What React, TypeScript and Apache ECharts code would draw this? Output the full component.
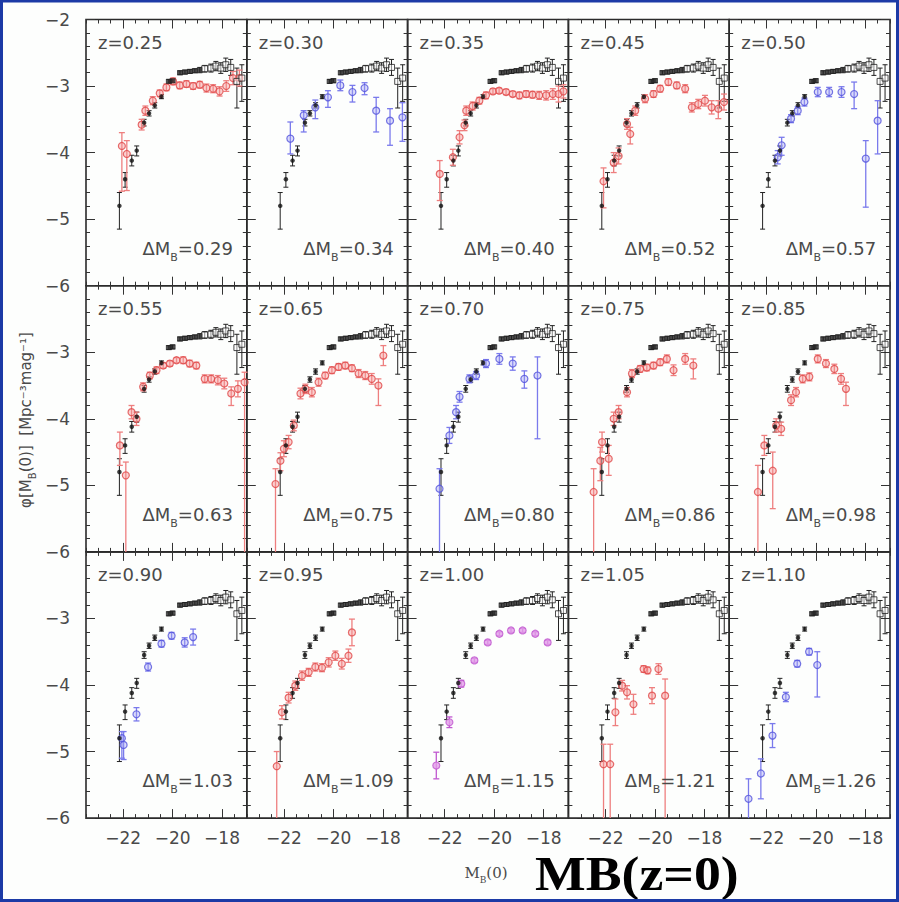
import React, { useEffect, useRef } from 'react';
import * as echarts from 'echarts';

// [M_B, log phi, error below, error above]
type Pt = [number, number, number, number];

const refLF: Pt[] = [
  [-22.15, -4.8, 0.35, 0.2], [-21.92, -4.4, 0.12, 0.1], [-21.65, -4.12, 0.08, 0.08],
  [-21.45, -3.97, 0.08, 0.07], [-21.15, -3.55, 0.05, 0.05], [-20.95, -3.41, 0.04, 0.04],
  [-20.72, -3.29, 0.04, 0.04], [-20.45, -3.16, 0.03, 0.03], [-20.15, -2.93, 0.03, 0.03],
  [-20.0, -2.92, 0.03, 0.03], [-19.7, -2.8, 0.03, 0.03], [-19.5, -2.79, 0.03, 0.03],
  [-19.3, -2.78, 0.03, 0.03], [-19.1, -2.77, 0.03, 0.03], [-18.9, -2.76, 0.04, 0.04],
  [-18.7, -2.74, 0.05, 0.05], [-18.45, -2.73, 0.06, 0.06], [-18.25, -2.7, 0.07, 0.07],
  [-18.05, -2.73, 0.08, 0.08], [-17.85, -2.68, 0.1, 0.1], [-17.65, -2.72, 0.12, 0.12],
  [-17.4, -2.93, 0.4, 0.2], [-17.2, -2.88, 0.35, 0.2],
];

const lf025: Pt[] = [
  [-22.05, -3.9, 0.68, 0.2], [-21.85, -4.02, 0.55, 0.2], [-21.25, -3.58, 0.08, 0.08],
  [-21.1, -3.37, 0.07, 0.07], [-20.8, -3.22, 0.06, 0.06], [-20.52, -3.11, 0.05, 0.05],
  [-20.25, -3.02, 0.05, 0.05], [-19.98, -2.93, 0.05, 0.05], [-19.71, -2.99, 0.05, 0.05],
  [-19.44, -2.97, 0.05, 0.05], [-19.17, -3.0, 0.05, 0.05], [-18.9, -2.98, 0.05, 0.05],
  [-18.63, -3.03, 0.06, 0.06], [-18.36, -3.04, 0.06, 0.06], [-18.1, -3.08, 0.07, 0.07],
  [-17.83, -3.0, 0.08, 0.08], [-17.56, -2.88, 0.1, 0.1], [-17.3, -2.88, 0.12, 0.12],
];
const lf030: Pt[] = [
  [-21.74, -3.79, 0.23, 0.25], [-21.2, -3.44, 0.25, 0.07], [-20.73, -3.32, 0.17, 0.11],
  [-20.22, -3.17, 0.15, 0.1], [-19.72, -2.99, 0.08, 0.08], [-19.23, -3.09, 0.15, 0.1],
  [-18.74, -3.03, 0.1, 0.08], [-18.27, -3.37, 0.32, 0.2], [-17.71, -3.52, 0.37, 0.18],
  [-17.21, -3.47, 0.36, 0.22],
];
const lf035: Pt[] = [
  [-22.2, -4.32, 0.4, 0.2], [-21.67, -4.07, 0.12, 0.12], [-21.4, -3.77, 0.1, 0.1],
  [-21.2, -3.59, 0.08, 0.08], [-21.13, -3.37, 0.07, 0.07], [-20.87, -3.3, 0.06, 0.06],
  [-20.6, -3.22, 0.05, 0.05], [-20.33, -3.14, 0.05, 0.05], [-20.05, -3.08, 0.04, 0.04],
  [-19.8, -3.07, 0.04, 0.04], [-19.52, -3.09, 0.04, 0.04], [-19.25, -3.12, 0.04, 0.04],
  [-18.98, -3.14, 0.05, 0.05], [-18.71, -3.12, 0.05, 0.05], [-18.45, -3.13, 0.05, 0.05],
  [-18.18, -3.14, 0.06, 0.06], [-17.9, -3.14, 0.07, 0.07], [-17.63, -3.12, 0.08, 0.08],
  [-17.4, -3.12, 0.12, 0.12], [-17.2, -3.08, 0.1, 0.1],
];
const lf045: Pt[] = [
  [-22.08, -4.43, 0.4, 0.2], [-21.67, -4.15, 0.15, 0.15], [-21.47, -4.05, 0.12, 0.12],
  [-21.13, -3.57, 0.08, 0.08], [-21.0, -3.72, 0.15, 0.1], [-20.8, -3.37, 0.07, 0.07],
  [-20.4, -3.19, 0.06, 0.06], [-20.06, -3.12, 0.05, 0.05], [-19.79, -3.04, 0.05, 0.05],
  [-19.46, -2.94, 0.05, 0.05], [-19.12, -2.99, 0.05, 0.05], [-18.78, -3.04, 0.06, 0.06],
  [-18.51, -3.32, 0.07, 0.07], [-18.25, -3.27, 0.07, 0.07], [-17.98, -3.22, 0.08, 0.08],
  [-17.71, -3.32, 0.1, 0.1], [-17.44, -3.34, 0.15, 0.12], [-17.21, -3.24, 0.12, 0.12],
];
const lf050: Pt[] = [
  [-21.54, -4.07, 0.1, 0.1], [-21.38, -3.89, 0.15, 0.12], [-21.0, -3.49, 0.06, 0.06],
  [-20.73, -3.37, 0.06, 0.06], [-20.46, -3.24, 0.06, 0.06], [-19.92, -3.09, 0.07, 0.07],
  [-19.46, -3.09, 0.07, 0.07], [-18.96, -3.09, 0.08, 0.08], [-18.45, -3.12, 0.22, 0.18],
  [-17.98, -4.09, 0.73, 0.27], [-17.5, -3.52, 0.5, 0.3],
];
const lf055: Pt[] = [
  [-22.13, -4.4, 0.3, 0.2], [-21.89, -4.85, 1.5, 0.2], [-21.66, -3.9, 0.1, 0.1],
  [-21.46, -4.0, 0.1, 0.1], [-21.19, -3.52, 0.06, 0.06], [-20.92, -3.35, 0.05, 0.05],
  [-20.65, -3.27, 0.05, 0.05], [-20.38, -3.2, 0.04, 0.04], [-20.11, -3.17, 0.04, 0.04],
  [-19.84, -3.12, 0.04, 0.04], [-19.57, -3.12, 0.05, 0.05], [-19.31, -3.17, 0.05, 0.05],
  [-19.04, -3.2, 0.05, 0.05], [-18.7, -3.4, 0.06, 0.06], [-18.44, -3.4, 0.06, 0.06],
  [-18.17, -3.42, 0.07, 0.07], [-17.91, -3.47, 0.08, 0.08], [-17.63, -3.62, 0.18, 0.1],
  [-17.36, -3.55, 0.12, 0.12], [-17.09, -3.45, 3.0, 0.15],
];
const lf065: Pt[] = [
  [-22.34, -4.98, 1.5, 0.23], [-22.14, -4.63, 0.15, 0.12], [-22.0, -4.45, 0.12, 0.12],
  [-21.81, -4.35, 0.1, 0.1], [-21.6, -4.1, 0.08, 0.08], [-21.33, -3.62, 0.08, 0.08],
  [-21.13, -3.55, 0.07, 0.07], [-20.87, -3.6, 0.07, 0.07], [-20.6, -3.45, 0.06, 0.06],
  [-20.33, -3.35, 0.05, 0.05], [-20.06, -3.27, 0.05, 0.05], [-19.79, -3.22, 0.05, 0.05],
  [-19.52, -3.2, 0.05, 0.05], [-19.25, -3.24, 0.05, 0.05], [-18.98, -3.32, 0.06, 0.06],
  [-18.71, -3.35, 0.06, 0.06], [-18.45, -3.4, 0.08, 0.08], [-18.18, -3.5, 0.3, 0.1],
  [-17.98, -3.05, 0.15, 0.15],
];
const lf070: Pt[] = [
  [-22.21, -5.05, 1.5, 0.3], [-21.81, -4.25, 0.12, 0.12], [-21.54, -3.9, 0.1, 0.1],
  [-21.4, -3.67, 0.08, 0.08], [-21.0, -3.4, 0.06, 0.06], [-20.73, -3.35, 0.06, 0.06],
  [-20.33, -3.17, 0.06, 0.06], [-19.79, -3.1, 0.08, 0.08], [-19.25, -3.17, 0.1, 0.1],
  [-18.78, -3.4, 0.14, 0.12], [-18.25, -3.35, 0.95, 0.28],
];
const lf075: Pt[] = [
  [-22.48, -5.1, 1.5, 0.35], [-22.21, -4.63, 0.3, 0.2], [-22.14, -4.35, 0.15, 0.15],
  [-21.87, -4.6, 0.25, 0.2], [-21.67, -4.0, 0.1, 0.1], [-21.47, -3.9, 0.1, 0.1],
  [-21.13, -3.6, 0.07, 0.07], [-20.93, -3.32, 0.06, 0.06], [-20.6, -3.25, 0.05, 0.05],
  [-20.33, -3.23, 0.05, 0.05], [-20.06, -3.2, 0.05, 0.05], [-19.79, -3.15, 0.05, 0.05],
  [-19.52, -3.1, 0.06, 0.06], [-19.25, -3.27, 0.08, 0.08], [-18.78, -3.1, 0.08, 0.08],
  [-18.45, -3.2, 0.2, 0.1],
];
const lf085: Pt[] = [
  [-22.34, -5.1, 1.5, 0.4], [-22.08, -4.4, 0.15, 0.15], [-21.74, -4.78, 0.57, 0.28],
  [-21.6, -4.1, 0.1, 0.1], [-21.4, -4.15, 0.1, 0.1], [-21.0, -3.72, 0.08, 0.08],
  [-20.8, -3.6, 0.07, 0.07], [-20.53, -3.4, 0.06, 0.06], [-20.26, -3.37, 0.06, 0.06],
  [-19.92, -3.1, 0.06, 0.06], [-19.59, -3.17, 0.06, 0.06], [-19.25, -3.25, 0.07, 0.07],
  [-18.98, -3.4, 0.08, 0.08], [-18.78, -3.55, 0.25, 0.1],
];
const lf090: Pt[] = [
  [-22.05, -4.8, 0.3, 0.1], [-21.98, -4.9, 0.22, 0.2], [-21.46, -4.44, 0.1, 0.1],
  [-20.99, -3.73, 0.06, 0.06], [-20.45, -3.38, 0.05, 0.05], [-20.04, -3.26, 0.05, 0.05],
  [-19.51, -3.36, 0.07, 0.07], [-19.17, -3.28, 0.12, 0.12],
];
const lf095: Pt[] = [
  [-22.29, -5.22, 1.0, 0.22], [-22.08, -4.41, 0.1, 0.1], [-21.81, -4.19, 0.08, 0.08],
  [-21.54, -4.01, 0.07, 0.07], [-21.27, -3.86, 0.07, 0.07], [-21.0, -3.81, 0.06, 0.06],
  [-20.73, -3.73, 0.06, 0.06], [-20.46, -3.74, 0.06, 0.06], [-20.19, -3.66, 0.07, 0.07],
  [-19.92, -3.56, 0.07, 0.07], [-19.66, -3.68, 0.08, 0.08], [-19.39, -3.56, 0.1, 0.1],
  [-19.25, -3.21, 0.2, 0.2],
];
const lf100: Pt[] = [
  [-22.34, -5.21, 0.2, 0.2], [-21.81, -4.56, 0.08, 0.08], [-21.33, -3.98, 0.05, 0.05],
  [-20.8, -3.63, 0.03, 0.03], [-20.26, -3.36, 0.03, 0.03], [-19.79, -3.23, 0.03, 0.03],
  [-19.32, -3.18, 0.03, 0.03], [-18.85, -3.18, 0.03, 0.03], [-18.34, -3.23, 0.03, 0.03],
  [-17.84, -3.36, 0.03, 0.03],
];
const lf105: Pt[] = [
  [-22.08, -5.19, 1.0, 0.3], [-21.81, -5.19, 1.0, 0.3], [-21.6, -4.41, 0.2, 0.2],
  [-21.33, -4.01, 0.08, 0.08], [-21.13, -4.11, 0.1, 0.1], [-20.87, -4.29, 0.15, 0.15],
  [-20.46, -3.76, 0.05, 0.05], [-20.3, -3.78, 0.05, 0.05], [-20.12, -4.16, 0.12, 0.12],
  [-19.86, -3.76, 0.08, 0.08], [-19.59, -4.16, 2.0, 0.25],
];
const lf110: Pt[] = [
  [-22.72, -5.71, 0.3, 0.3], [-22.22, -5.33, 0.38, 0.22], [-21.75, -4.76, 0.18, 0.18],
  [-21.21, -4.18, 0.07, 0.07], [-20.75, -3.68, 0.05, 0.05], [-20.27, -3.5, 0.05, 0.05],
  [-19.94, -3.7, 0.48, 0.2],
];

const panelData: Pt[][] = [
  lf025, lf030, lf035, lf045, lf050,
  lf055, lf065, lf070, lf075, lf085,
  lf090, lf095, lf100, lf105, lf110,
];
const redshifts = ['0.25', '0.30', '0.35', '0.45', '0.50', '0.55', '0.65', '0.70', '0.75', '0.85', '0.90', '0.95', '1.00', '1.05', '1.10'];
const deltaMB = ['0.29', '0.34', '0.40', '0.52', '0.57', '0.63', '0.75', '0.80', '0.86', '0.98', '1.03', '1.09', '1.15', '1.21', '1.26'];
const sampleColor = ['red', 'blue', 'red', 'red', 'blue', 'red', 'red', 'blue', 'red', 'red', 'blue', 'red', 'magenta', 'red', 'blue'];
const xTickLabels = [-22, -20, -18];
const xRange = [-23.5, -17];
const yRange = [-6, -2];

const PALETTE: Record<string, { edge: string; fill: string; bar: string }> = {
  red: { edge: '#e04848', fill: 'rgba(245,150,150,0.55)', bar: '#ee7f7f' },
  blue: { edge: '#5252dc', fill: 'rgba(165,165,245,0.5)', bar: '#7a7aec' },
  magenta: { edge: '#c058d0', fill: '#e29ee8', bar: '#c058d0' },
};

const L = 86, T = 19.5, W = 160.8, H = 266.2;
const FONT = 'DejaVu Sans';
const TXT = '#4a4a4a';

function errBars(color: string, lw: number, cap: number) {
  return (_p: any, api: any) => {
    const x = api.value(0), y = api.value(1), lo = api.value(2), hi = api.value(3);
    const top = y + hi, bot = y - lo;
    const p1 = api.coord([x, Math.min(top, yRange[1])]);
    const p2 = api.coord([x, Math.max(bot, yRange[0])]);
    const st = { stroke: color, lineWidth: lw };
    const ch: any[] = [{ type: 'line', shape: { x1: p1[0], y1: p1[1], x2: p2[0], y2: p2[1] }, style: st }];
    if (top <= yRange[1]) ch.push({ type: 'line', shape: { x1: p1[0] - cap, y1: p1[1], x2: p1[0] + cap, y2: p1[1] }, style: st });
    if (bot >= yRange[0]) ch.push({ type: 'line', shape: { x1: p2[0] - cap, y1: p2[1], x2: p2[0] + cap, y2: p2[1] }, style: st });
    return { type: 'group', children: ch };
  };
}

const minus = (v: number) => (v < 0 ? '\u2212' + Math.abs(v) : String(v));

function buildOption() {
  const grids: any[] = [], xAxes: any[] = [], yAxes: any[] = [], series: any[] = [], graphics: any[] = [];
  const tickStyle = { color: '#333', width: 1 };
  for (let i = 0; i < 15; i++) {
    const r = Math.floor(i / 5), c = i % 5;
    const left = L + c * W, top = T + r * H;
    grids.push({ left, top, width: W, height: H, show: true, borderColor: '#2a2a2a', borderWidth: 1.6, backgroundColor: 'transparent' });
    const xb = { type: 'value', gridIndex: i, min: xRange[0], max: xRange[1], axisLine: { show: false }, splitLine: { show: false } };
    const labelStyle = { fontFamily: FONT, fontSize: 17, color: TXT };
    xAxes.push({ ...xb, position: 'bottom', interval: 0.5,
      axisTick: { inside: true, length: 4, lineStyle: tickStyle },
      axisLabel: r === 2 ? { ...labelStyle, customValues: xTickLabels, formatter: minus, margin: 11 } : { show: false } });
    xAxes.push({ ...xb, position: 'bottom', axisTick: { inside: true, length: 9, customValues: xTickLabels, lineStyle: tickStyle }, axisLabel: { show: false } });
    xAxes.push({ ...xb, position: 'top', interval: 0.5, axisTick: { inside: true, length: 4, lineStyle: tickStyle }, axisLabel: { show: false } });
    xAxes.push({ ...xb, position: 'top', axisTick: { inside: true, length: 9, customValues: xTickLabels, lineStyle: tickStyle }, axisLabel: { show: false } });
    const yb = { type: 'value', gridIndex: i, min: yRange[0], max: yRange[1], interval: 1, axisLine: { show: false }, splitLine: { show: false },
      axisTick: { inside: true, length: 9, lineStyle: tickStyle }, minorTick: { show: true, splitNumber: 5, length: 4, lineStyle: tickStyle } };
    yAxes.push({ ...yb, position: 'left',
      axisLabel: c === 0 ? { ...labelStyle, margin: 16, formatter: (v: number) => (r > 0 && v === yRange[1] ? '' : minus(v)) } : { show: false } });
    yAxes.push({ ...yb, position: 'right', axisLabel: { show: false } });

    const xi = i * 4, yi = i * 2;
    const pal = PALETTE[sampleColor[i]];
    const sample = panelData[i];
    series.push({ type: 'custom', xAxisIndex: xi, yAxisIndex: yi, silent: true, encode: { x: 0, y: 1 }, data: refLF, renderItem: errBars('#222', 1, 2.5), z: 2 });
    series.push({ type: 'custom', xAxisIndex: xi, yAxisIndex: yi, silent: true, encode: { x: 0, y: 1 }, data: sample, renderItem: errBars(pal.bar, 1.3, 3), z: 3 });
    series.push({ type: 'scatter', xAxisIndex: xi, yAxisIndex: yi, silent: true, symbol: 'circle', symbolSize: 7,
      itemStyle: { color: pal.fill, borderColor: pal.edge, borderWidth: 1.2 }, data: sample.map((p) => [p[0], p[1]]), z: 4 });
    series.push({ type: 'scatter', xAxisIndex: xi, yAxisIndex: yi, silent: true, symbol: 'circle', symbolSize: 4.5,
      itemStyle: { color: '#111' }, data: refLF.filter((p) => p[0] < -20.3).map((p) => [p[0], p[1]]), z: 5 });
    series.push({ type: 'scatter', xAxisIndex: xi, yAxisIndex: yi, silent: true, symbol: 'rect', symbolSize: [6, 5],
      itemStyle: { color: '#222' }, data: refLF.filter((p) => p[0] >= -20.3 && p[0] < -18.8).map((p) => [p[0], p[1]]), z: 5 });
    series.push({ type: 'scatter', xAxisIndex: xi, yAxisIndex: yi, silent: true, symbol: 'rect', symbolSize: 6,
      itemStyle: { color: 'rgba(255,255,255,0.6)', borderColor: '#222', borderWidth: 1 }, data: refLF.filter((p) => p[0] >= -18.8).map((p) => [p[0], p[1]]), z: 5 });

    graphics.push({ type: 'text', x: left + 12, y: top + 23, z: 10, silent: true,
      style: { text: 'z=' + redshifts[i], fontFamily: FONT, fontSize: 18, fill: TXT, verticalAlign: 'middle', align: 'left' } });
    graphics.push({ type: 'text', x: left + 147, y: top + 229, z: 10, silent: true,
      style: { text: '{m|\u0394M}{b|B}{m|=' + deltaMB[i] + '}', align: 'right', verticalAlign: 'middle',
        rich: {
          m: { fontFamily: FONT, fontSize: 18, fill: TXT, lineHeight: 28, verticalAlign: 'middle' },
          b: { fontFamily: FONT, fontSize: 11, fill: TXT, lineHeight: 13, verticalAlign: 'bottom' },
        } } });
  }

  graphics.push({ type: 'text', x: 26, y: 420, rotation: Math.PI / 2, z: 10, silent: true,
    style: { text: '{m|\u03c6[M}{b|B}{m|(0)]  [Mpc\u207b\u00b3mag\u207b\u00b9]}', align: 'center', verticalAlign: 'middle',
      rich: {
        m: { fontFamily: FONT, fontSize: 15, fill: TXT, lineHeight: 22, verticalAlign: 'middle' },
        b: { fontFamily: FONT, fontSize: 10, fill: TXT, lineHeight: 11, verticalAlign: 'bottom' },
      } } });
  graphics.push({ type: 'text', x: 486, y: 873, z: 10, silent: true,
    style: { text: '{m|M}{b|B}{m|(0)}', align: 'center', verticalAlign: 'middle',
      rich: {
        m: { fontFamily: 'DejaVu Serif', fontSize: 15, fill: TXT, lineHeight: 22, verticalAlign: 'middle' },
        b: { fontFamily: 'DejaVu Serif', fontSize: 9, fill: TXT, lineHeight: 10, verticalAlign: 'bottom' },
      } } });
  graphics.push({ type: 'text', x: 535, y: 874, scaleX: 1.12, z: 10, silent: true,
    style: { text: 'MB(z=0)', fontFamily: 'Liberation Serif', fontWeight: 'bold', fontSize: 48, fill: '#000', align: 'left', verticalAlign: 'middle' } });
  graphics.push({ type: 'rect', shape: { x: 1.5, y: 1, width: 896, height: 899.5 }, z: 20, silent: true,
    style: { fill: 'none', stroke: '#1c3aa6', lineWidth: 3 } });

  return { animation: false, backgroundColor: '#fdfefd', grid: grids, xAxis: xAxes, yAxis: yAxes, series, graphic: graphics };
}

export default function App() {
  const ref = useRef<HTMLDivElement>(null);
  useEffect(() => {
    if (!ref.current) return;
    const chart = echarts.init(ref.current, undefined, { renderer: 'svg' });
    chart.setOption(buildOption() as any);
    return () => chart.dispose();
  }, []);
  return <div ref={ref} style={{ position: 'fixed', left: 0, top: 0, width: 899, height: 902 }} />;
}
